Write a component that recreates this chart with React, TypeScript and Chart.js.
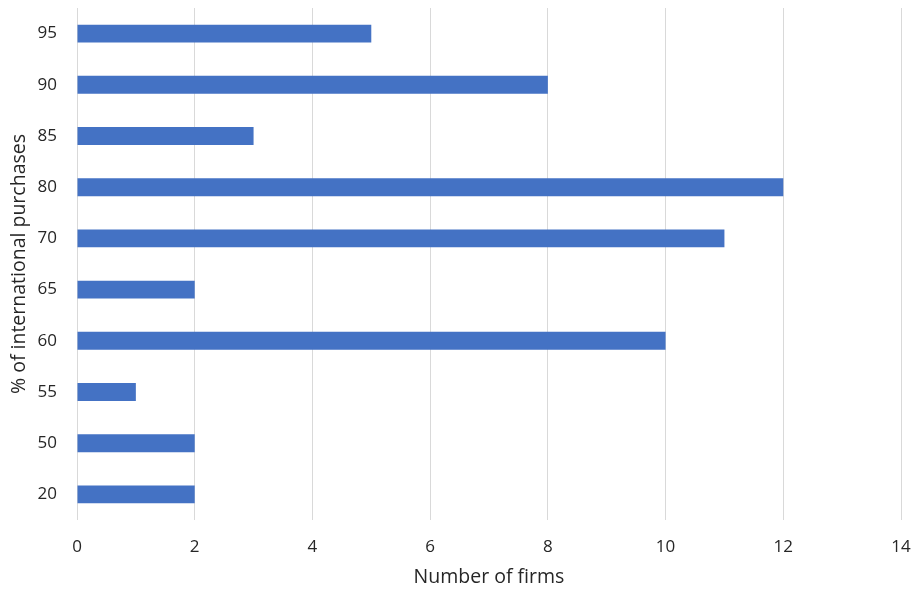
import React, { useEffect, useRef } from "react";
import { Chart, registerables } from "chart.js";

Chart.register(...registerables);

const categories = ["95", "90", "85", "80", "70", "65", "60", "55", "50", "20"];
const firms = [5, 8, 3, 12, 11, 2, 10, 1, 2, 2];
const xTicks = [0, 2, 4, 6, 8, 10, 12, 14];

export default function App() {
  const ref = useRef<HTMLCanvasElement | null>(null);

  useEffect(() => {
    if (!ref.current) return;
    const font = "'Open Sans', sans-serif";
    const chart = new Chart(ref.current, {
      type: "bar",
      data: {
        labels: categories,
        datasets: [
          {
            data: firms,
            backgroundColor: "#4472C4",
            barPercentage: 0.35,
            categoryPercentage: 1,
          },
        ],
      },
      options: {
        indexAxis: "y",
        animation: false,
        responsive: false,
        maintainAspectRatio: false,
        layout: { padding: { top: 8, right: 11, bottom: 0, left: 0 } },
        plugins: {
          legend: { display: false },
          tooltip: { enabled: false },
        },
        scales: {
          x: {
            min: 0,
            max: 14,
            afterBuildTicks: (axis: any) => {
              axis.ticks = xTicks.map((v) => ({ value: v }));
            },
            afterFit: (axis: any) => {
              axis.height = 69;
              axis.paddingLeft = 0;
              axis.paddingRight = 0;
            },
            grid: { color: "#d9d9d9", drawTicks: false, lineWidth: 1 },
            border: { display: false },
            ticks: {
              padding: 17,
              color: "#262626",
              font: { family: font, size: 17 },
              maxRotation: 0,
            },
            title: {
              display: true,
              text: "Number of firms",
              color: "#262626",
              font: { family: font, size: 19.5 },
              padding: { top: 0, bottom: 0 },
            },
          },
          y: {
            afterFit: (axis: any) => {
              axis.width = 77;
              axis.paddingTop = 0;
              axis.paddingBottom = 0;
            },
            grid: { display: false, drawTicks: false },
            border: { display: false },
            ticks: {
              padding: 20,
              color: "#262626",
              font: { family: font, size: 17 },
            },
            title: {
              display: true,
              text: "% of international purchases",
              color: "#262626",
              font: { family: font, size: 19.5 },
              padding: { top: 8, bottom: 0 },
            },
          },
        },
      },
    });
    return () => chart.destroy();
  }, []);

  return (
    <div style={{ position: "fixed", left: 0, top: 0, width: 912, height: 589, background: "#ffffff" }}>
      <canvas ref={ref} width={912} height={589} style={{ display: "block" }} />
    </div>
  );
}
